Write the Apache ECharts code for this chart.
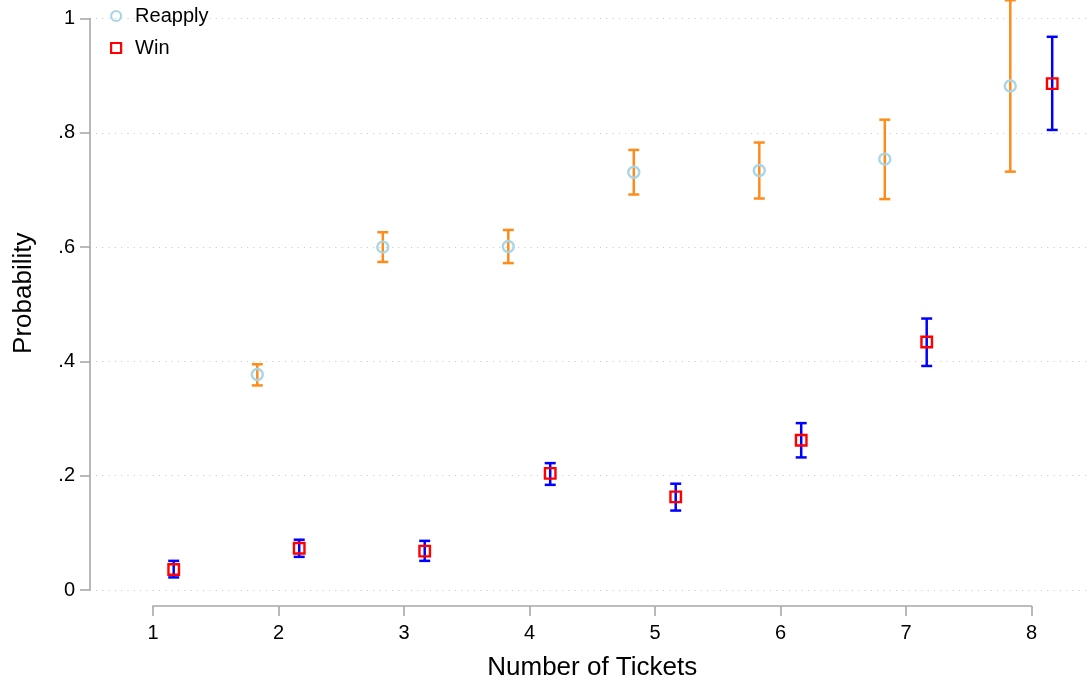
<!DOCTYPE html>
<html>
<head>
<meta charset="utf-8">
<script src="https://cdn.jsdelivr.net/npm/echarts@6/dist/echarts.min.js"></script>
<style>
  html, body { margin: 0; padding: 0; background: #fff; }
  #chart { width: 1091px; height: 685px; }
</style>
</head>
<body>
<div id="chart"></div>
<script>
// Number of tickets held (x categories)
const tickets = [1, 2, 3, 4, 5, 6, 7, 8];
const xTickLabels = ['1', '2', '3', '4', '5', '6', '7', '8'];
const yTickValues = [0, 0.2, 0.4, 0.6, 0.8, 1];
const yTickLabels = ['0', '.2', '.4', '.6', '.8', '1'];

// Probability of reapplying, with 95% interval bounds (no estimate for 1 ticket)
const reapplyMean = [null, 0.377, 0.600, 0.601, 0.731, 0.734, 0.754, 0.882];
const reapplyLow  = [null, 0.358, 0.574, 0.572, 0.692, 0.685, 0.684, 0.732];
const reapplyHigh = [null, 0.395, 0.626, 0.630, 0.770, 0.783, 0.823, 1.032];

// Probability of winning, with 95% interval bounds
const winMean = [0.036, 0.073, 0.068, 0.204, 0.163, 0.262, 0.434, 0.886];
const winLow  = [0.022, 0.058, 0.051, 0.184, 0.139, 0.232, 0.392, 0.805];
const winHigh = [0.051, 0.088, 0.086, 0.222, 0.186, 0.292, 0.475, 0.968];

// horizontal shift of each group around the ticket count
const reapplyShift = -0.167;
const winShift = 0.167;

const FONT = "'Liberation Sans', Arial, Helvetica, sans-serif";
const AXIS_GRAY = '#a8a8a8';
const ORANGE = '#ff8c1a';
const LIGHTBLUE = '#a9d6e5';
const SQUARE = 'path://M0,0L10,0L10,10L0,10Z';

function points(mean, shift) {
  const out = [];
  tickets.forEach((t, i) => { if (mean[i] != null) out.push([t + shift, mean[i]]); });
  return out;
}
function intervals(low, high, shift) {
  const out = [];
  tickets.forEach((t, i) => { if (low[i] != null) out.push([t + shift, low[i], high[i]]); });
  return out;
}

// vertical range bar with caps at both ends
function capRenderer(color) {
  return function (params, api) {
    const x = api.value(0);
    const lo = api.coord([x, api.value(1)]);
    const hi = api.coord([x, api.value(2)]);
    const half = 5.5;
    const style = { stroke: color, lineWidth: 2.5, fill: null };
    return {
      type: 'group',
      children: [
        { type: 'line', shape: { x1: lo[0], y1: lo[1], x2: hi[0], y2: hi[1] }, style },
        { type: 'line', shape: { x1: lo[0] - half, y1: lo[1], x2: lo[0] + half, y2: lo[1] }, style },
        { type: 'line', shape: { x1: hi[0] - half, y1: hi[1], x2: hi[0] + half, y2: hi[1] }, style }
      ]
    };
  };
}

const chart = echarts.init(document.getElementById('chart'), null, { renderer: 'canvas' });

chart.setOption({
  backgroundColor: '#ffffff',
  animation: false,
  textStyle: { fontFamily: FONT, color: '#000' },
  legend: {
    orient: 'vertical',
    left: 105,
    top: 1,
    itemWidth: 28,
    itemHeight: 10,
    itemGap: 12,
    symbolKeepAspect: true,
    textStyle: { fontFamily: FONT, fontSize: 20, color: '#000' },
    data: [
      { name: 'Reapply', icon: 'circle', itemStyle: { color: 'rgba(0,0,0,0)', borderColor: LIGHTBLUE, borderWidth: 2.2 } },
      { name: 'Win', icon: SQUARE, itemStyle: { color: 'rgba(0,0,0,0)', borderColor: '#ff0000', borderWidth: 2.2 } }
    ]
  },
  grid: [
    { left: 90, top: 18.5, width: 1004, height: 571.5, containLabel: false, outerBoundsMode: 'none' },
    { left: 153, top: 18.5, width: 878.5, height: 571.5, containLabel: false, outerBoundsMode: 'none' }
  ],
  xAxis: [
    { gridIndex: 0, type: 'value', min: 0.5, max: 8.5, show: false },
    {
      gridIndex: 1, type: 'value', min: 1, max: 8, interval: 1,
      position: 'bottom', offset: 16,
      name: 'Number of Tickets', nameLocation: 'middle', nameGap: 49, nameMoveOverlap: false,
      nameTextStyle: { fontFamily: FONT, fontSize: 26, color: '#000' },
      axisLine: { show: true, onZero: false, lineStyle: { color: AXIS_GRAY, width: 1.6 } },
      axisTick: { show: true, length: 10, lineStyle: { color: AXIS_GRAY, width: 1.6 } },
      axisLabel: {
        margin: 17, fontFamily: FONT, fontSize: 20, color: '#000',
        formatter: v => xTickLabels[tickets.indexOf(v)] ?? ''
      },
      splitLine: { show: false }
    }
  ],
  yAxis: [
    {
      gridIndex: 0, type: 'value', min: 0, max: 1, interval: 0.2,
      name: 'Probability', nameLocation: 'middle', nameGap: 53,
      nameTextStyle: { fontFamily: FONT, fontSize: 26, color: '#000', padding: [0, 0, 0, 22] },
      axisLine: { show: true, lineStyle: { color: AXIS_GRAY, width: 1.6 } },
      axisTick: { show: true, length: 10, lineStyle: { color: AXIS_GRAY, width: 1.6 } },
      axisLabel: {
        margin: 15, fontFamily: FONT, fontSize: 20, color: '#000',
        formatter: v => {
          const i = yTickValues.findIndex(t => Math.abs(t - v) < 1e-9);
          return i >= 0 ? yTickLabels[i] : '';
        }
      },
      splitLine: { show: true, lineStyle: { color: '#c4c4c4', width: 1, type: [1, 5.3], dashOffset: -6 } }
    },
    { gridIndex: 1, type: 'value', min: 0, max: 1, show: false }
  ],
  series: [
    {
      name: 'Reapply CI', type: 'custom', xAxisIndex: 0, yAxisIndex: 0, clip: false,
      renderItem: capRenderer(ORANGE),
      data: intervals(reapplyLow, reapplyHigh, reapplyShift), z: 2
    },
    {
      name: 'Reapply', type: 'scatter', xAxisIndex: 0, yAxisIndex: 0,
      symbol: 'circle', symbolSize: 11,
      itemStyle: { color: 'rgba(0,0,0,0)', borderColor: LIGHTBLUE, borderWidth: 2.4, opacity: 1 },
      data: points(reapplyMean, reapplyShift), z: 3
    },
    {
      name: 'Win CI', type: 'custom', xAxisIndex: 0, yAxisIndex: 0, clip: false,
      renderItem: capRenderer('#0000ff'),
      data: intervals(winLow, winHigh, winShift), z: 2
    },
    {
      name: 'Win', type: 'scatter', xAxisIndex: 0, yAxisIndex: 0,
      symbol: 'rect', symbolSize: 10.5,
      itemStyle: { color: 'rgba(0,0,0,0)', borderColor: '#ff0000', borderWidth: 2.4, opacity: 1 },
      data: points(winMean, winShift), z: 3
    }
  ]
});
</script>
</body>
</html>
